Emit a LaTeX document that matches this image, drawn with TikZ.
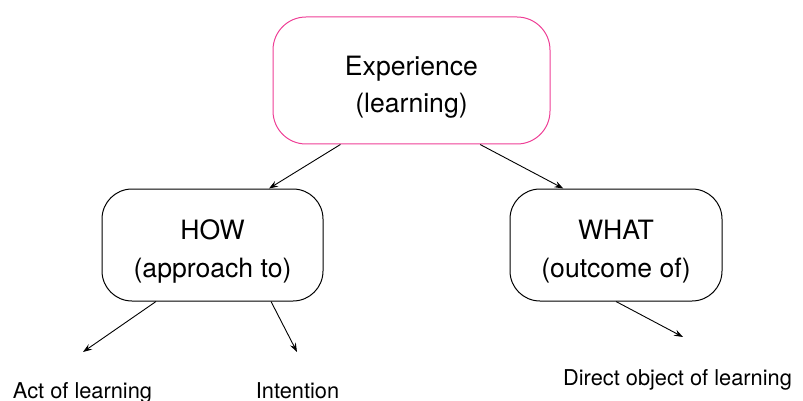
\documentclass[tikz,border=0pt]{standalone}
\usepackage{fontspec}
\setmainfont{TeX Gyre Heros}
\usepackage{xcolor}
\definecolor{exppink}{HTML}{EE3F96}
\usetikzlibrary{arrows.meta, positioning}
\newcommand{\firststrut}{\rule{0pt}{16.2pt}}
\begin{document}
\begin{tikzpicture}[x=0.5pt, y=-0.5pt,
    box/.style={draw, line width=0.5pt, rounded corners=15pt, align=center,
      font=\fontsize{13.3}{18.7}\selectfont, inner sep=0pt},
    leaf/.style={anchor=base, font=\fontsize{10.9}{13}\selectfont, inner sep=0pt},
    link/.style={-{Stealth[length=4.5pt, width=3.2pt, inset=1.6pt]}, line width=0.45pt}]
    \useasboundingbox (0,0) rectangle (803,401);
    % Boxes
    \node[box, draw=exppink, rounded corners=16.5pt, minimum width=138.5pt, minimum height=63.5pt]
      (exp) at (411.5,80.5) {\firststrut Experience\\(learning)};
    \node[box, minimum width=110.5pt, minimum height=56pt]
      (how) at (212.5,245) {\firststrut HOW\\(approach to)};
    \node[box, minimum width=106pt, minimum height=56pt]
      (what) at (616,245) {\firststrut WHAT\\(outcome of)};
    % Leaf labels
    \node[leaf] (act) at (82.5,398) {Act of learning};
    \node[leaf] (int) at (297.5,398) {Intention};
    \node[leaf] (dir) at (677.5,385) {Direct object of learning};
    % Free arrow ends
    \coordinate (actend) at (83,352);
    \coordinate (intend) at (297,352);
    \coordinate (dirend) at (683,337);
    % Connectors
    \draw[link] (exp.222) -- (how.45);
    \draw[link] (exp.317) -- (what.133);
    \draw[link] (how.225) -- (actend);
    \draw[link] (how.316) -- (intend);
    \draw[link] (what.south) -- (dirend);
\end{tikzpicture}
\end{document}
